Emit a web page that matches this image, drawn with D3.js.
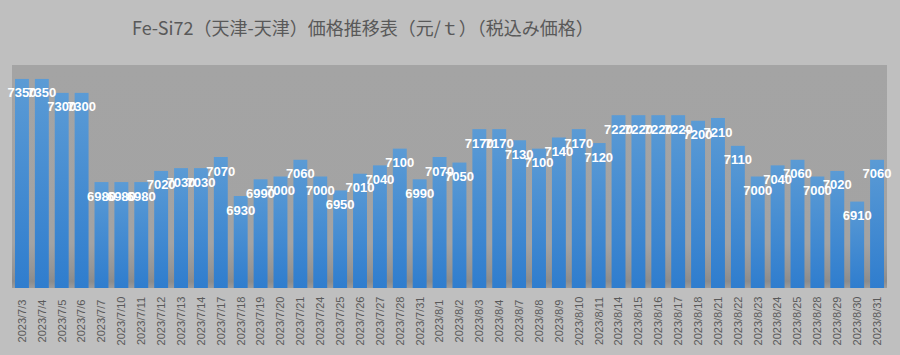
<!DOCTYPE html>
<html><head><meta charset="utf-8">
<script src="https://cdn.jsdelivr.net/npm/d3@7"></script>
<style>html,body{margin:0;padding:0;background:#bfbfbf;}</style>
</head><body>
<svg id="c" width="900" height="355"></svg>
<script>
const categories = ["2023/7/3","2023/7/4","2023/7/5","2023/7/6","2023/7/7","2023/7/10","2023/7/11","2023/7/12","2023/7/13","2023/7/14","2023/7/17","2023/7/18","2023/7/19","2023/7/20","2023/7/21","2023/7/24","2023/7/25","2023/7/26","2023/7/27","2023/7/28","2023/7/31","2023/8/1","2023/8/2","2023/8/3","2023/8/4","2023/8/7","2023/8/8","2023/8/9","2023/8/10","2023/8/11","2023/8/14","2023/8/15","2023/8/16","2023/8/17","2023/8/18","2023/8/21","2023/8/22","2023/8/23","2023/8/24","2023/8/25","2023/8/28","2023/8/29","2023/8/30","2023/8/31"];
const prices = [7350,7350,7300,7300,6980,6980,6980,7020,7030,7030,7070,6930,6990,7000,7060,7000,6950,7010,7040,7100,6990,7070,7050,7170,7170,7130,7100,7140,7170,7120,7220,7220,7220,7220,7200,7210,7110,7000,7040,7060,7000,7020,6910,7060];
const yDomain = [6600, 7400];
const titleText = "Fe-Si72（天津-天津）価格推移表（元/ｔ）（税込み価格）";

const svg = d3.select("#c");
const W = 900, H = 355;
const plot = {left: 12, right: 887, top: 65, bottom: 288};

const defs = svg.append("defs");
const bg = defs.append("linearGradient").attr("id","bg").attr("x1",0).attr("y1",0).attr("x2",0).attr("y2",1);
[[0,"#a4a4a4"],[0.8,"#a3a3a3"],[0.92,"#959595"],[0.97,"#8c8c8c"],[1,"#9c9c9c"]].forEach(([o,c])=>bg.append("stop").attr("offset",o).attr("stop-color",c));
const bar = defs.append("linearGradient").attr("id","bar").attr("x1",0).attr("y1",0).attr("x2",0).attr("y2",1);
[[0,"#5b9bd5"],[1,"#2f7dce"]].forEach(([o,c])=>bar.append("stop").attr("offset",o).attr("stop-color",c));

svg.append("rect").attr("width",W).attr("height",H).attr("fill","#bfbfbf");
svg.append("rect").attr("x",plot.left).attr("y",plot.top).attr("width",plot.right-plot.left).attr("height",plot.bottom-plot.top).attr("fill","url(#bg)");

const x = d3.scaleBand().domain(categories).range([plot.left, plot.right]).paddingInner(0.3).paddingOuter(0.15);
const y = d3.scaleLinear().domain(yDomain).range([plot.bottom, plot.top]);

svg.append("g").selectAll("rect").data(prices).join("rect")
  .attr("x",(d,i)=>x(categories[i]))
  .attr("y",d=>y(d))
  .attr("width",x.bandwidth())
  .attr("height",d=>plot.bottom-y(d))
  .attr("fill","url(#bar)");

svg.append("g").selectAll("text").data(prices).join("text")
  .attr("x",(d,i)=>x(categories[i])+x.bandwidth()/2)
  .attr("y",d=>y(d)+14)
  .attr("dy","0.35em")
  .attr("text-anchor","middle")
  .attr("fill","#ffffff")
  .attr("font-family","'Liberation Sans', Arial, sans-serif")
  .attr("font-weight","bold")
  .attr("font-size","13px")
  .text(d=>d);

const xAxis = d3.axisBottom(x).tickSize(0).tickPadding(0);
const gx = svg.append("g").attr("transform",`translate(0,${plot.bottom})`).call(xAxis);
gx.select(".domain").remove();
gx.selectAll("text")
  .attr("transform","translate(0,33) rotate(-90)")
  .attr("x",0).attr("y",0).attr("dy","0.35em")
  .attr("text-anchor","middle")
  .attr("fill","#595959")
  .attr("font-family","'Liberation Sans', Arial, sans-serif")
  .attr("font-size","11px");

svg.append("text").attr("x",132).attr("y",29).attr("dy","0.35em")
  .attr("fill","#595959")
  .attr("font-family","'Noto Sans CJK JP', sans-serif")
  .attr("font-size","18px")
  .text(titleText);
</script>
</body></html>
